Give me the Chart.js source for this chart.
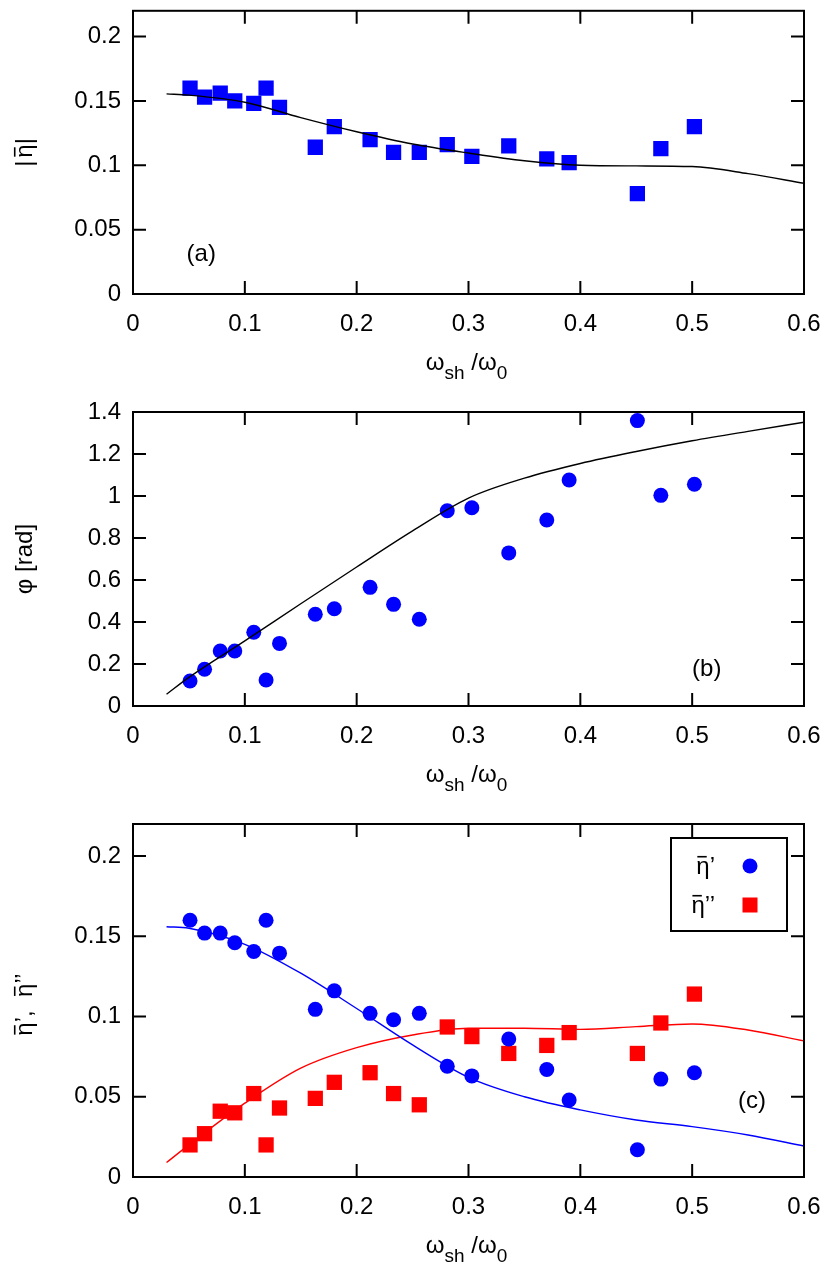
<!DOCTYPE html>
<html>
<head>
<meta charset="utf-8">
<script src="https://cdn.jsdelivr.net/npm/chart.js@4.4.0/dist/chart.umd.min.js"></script>
<style>
  html, body { margin: 0; padding: 0; background: #fff; }
  #wrap { position: relative; width: 828px; height: 1268px; }
  .panel { position: absolute; left: 0; width: 828px; }
</style>
</head>
<body>
<div id="wrap">
  <div class="panel" style="top:0"><canvas id="cA" width="828" height="392"></canvas></div>
  <div class="panel" style="top:392px"><canvas id="cB" width="828" height="412"></canvas></div>
  <div class="panel" style="top:804px"><canvas id="cC" width="828" height="464"></canvas></div>
</div>
<script>
// measured points (same frequencies in all three panels)
const freq   = [0.051, 0.064, 0.078, 0.091, 0.108, 0.119, 0.131, 0.163, 0.180, 0.212,
                0.233, 0.256, 0.281, 0.303, 0.336, 0.370, 0.390, 0.451, 0.472, 0.502];
const etaAbs = [0.160, 0.153, 0.156, 0.150, 0.148, 0.160, 0.145, 0.114, 0.130, 0.120,
                0.110, 0.110, 0.116, 0.107, 0.115, 0.105, 0.102, 0.078, 0.113, 0.130];
const phase  = [0.119, 0.175, 0.262, 0.262, 0.351, 0.124, 0.298, 0.437, 0.463, 0.565,
                0.484, 0.413, 0.930, 0.944, 0.729, 0.886, 1.076, 1.359, 1.003, 1.056];
const etaRe  = [0.160, 0.152, 0.152, 0.146, 0.1405, 0.160, 0.1395, 0.1045, 0.116, 0.102,
                0.098, 0.102, 0.069, 0.063, 0.086, 0.067, 0.048, 0.017, 0.061, 0.065];
const etaIm  = [0.020, 0.027, 0.041, 0.040, 0.052, 0.020, 0.043, 0.049, 0.059, 0.065,
                0.052, 0.045, 0.0935, 0.0875, 0.077, 0.082, 0.090, 0.077, 0.096, 0.114];

// model curves
const fitX     = [0.03, 0.05, 0.1, 0.15, 0.2, 0.25, 0.3, 0.35, 0.4, 0.45, 0.5, 0.55, 0.6];
const fitAbs   = [0.1555, 0.1545, 0.149, 0.137, 0.126, 0.1165, 0.1095, 0.1035, 0.100, 0.0995, 0.099, 0.0935, 0.086];
const fitPhase = [0.056, 0.136, 0.31, 0.487, 0.662, 0.834, 0.99, 1.085, 1.155, 1.212, 1.263, 1.308, 1.351];
const fitRe    = [0.156, 0.155, 0.145, 0.127, 0.105, 0.0823, 0.0621, 0.050, 0.0418, 0.0355, 0.0314, 0.0262, 0.0193];
const fitIm    = [0.009, 0.020, 0.046, 0.0678, 0.0806, 0.0885, 0.0927, 0.0927, 0.092, 0.0937, 0.0954, 0.0916, 0.0848];

// tick labels
const xTicks  = [0, 0.1, 0.2, 0.3, 0.4, 0.5, 0.6];
const yTicksA = [0, 0.05, 0.1, 0.15, 0.2];
const yTicksB = [0, 0.2, 0.4, 0.6, 0.8, 1, 1.2, 1.4];
const yTicksC = [0, 0.05, 0.1, 0.15, 0.2];

const FONT = "'Liberation Sans', Arial, sans-serif";
const BLUE = '#0000ff';
const RED = '#ff0000';

const pts = (xs, ys) => xs.map((x, i) => ({ x: x, y: ys[i] }));

function scatterSet(ys, color, style) {
  return {
    data: pts(freq, ys),
    showLine: false,
    pointStyle: style,
    pointRadius: style === 'rect' ? 10.8 : 7.5,
    pointBorderWidth: 0,
    backgroundColor: color,
    borderColor: color
  };
}

function curveSet(ys, color) {
  return {
    data: pts(fitX, ys),
    showLine: true,
    pointRadius: 0,
    borderColor: color,
    borderWidth: 1.4,
    cubicInterpolationMode: 'monotone',
    fill: false
  };
}

// parts: [text, size, dy, overline]; align: 'center' | 'right'
function drawParts(ctx, parts, x, base, align) {
  let w = 0;
  parts.forEach(p => { ctx.font = p[1] + 'px ' + FONT; w += ctx.measureText(p[0]).width; });
  let cx = align === 'right' ? x - w : x - w / 2;
  ctx.textAlign = 'left';
  ctx.textBaseline = 'alphabetic';
  parts.forEach(p => {
    ctx.font = p[1] + 'px ' + FONT;
    const pw = ctx.measureText(p[0]).width;
    ctx.fillText(p[0], cx, base + p[2]);
    if (p[3]) {
      ctx.save();
      ctx.lineWidth = 1.6;
      ctx.strokeStyle = ctx.fillStyle;
      ctx.beginPath();
      ctx.moveTo(cx + 1, base + p[2] - p[1] * 0.72);
      ctx.lineTo(cx + pw * 0.78, base + p[2] - p[1] * 0.72);
      ctx.stroke();
      ctx.restore();
    }
    cx += pw;
  });
}

function panelPlugin(cfg) {
  return {
    id: 'panel',
    afterDraw(chart) {
      const { ctx, chartArea: a, scales: { x, y } } = chart;
      ctx.save();
      ctx.strokeStyle = '#000';
      ctx.lineWidth = 2;
      ctx.beginPath();
      xTicks.forEach(v => {
        const p = x.getPixelForValue(v);
        ctx.moveTo(p, a.bottom); ctx.lineTo(p, a.bottom - 13);
        ctx.moveTo(p, a.top); ctx.lineTo(p, a.top + 13);
      });
      cfg.yTicks.forEach(v => {
        const p = y.getPixelForValue(v);
        ctx.moveTo(a.left, p); ctx.lineTo(a.left + 13, p);
        ctx.moveTo(a.right, p); ctx.lineTo(a.right - 13, p);
      });
      ctx.stroke();
      ctx.strokeRect(a.left, a.top, a.right - a.left, a.bottom - a.top);

      ctx.fillStyle = '#000';
      // x title
      drawParts(ctx, [['ω', 24, 0], ['sh', 19, 9], [' /', 24, 0], ['ω', 24, 0], ['0', 19, 9]],
        (a.left + a.right) / 2 - 2, a.bottom + 76, 'center');

      // y title
      ctx.save();
      ctx.translate(24, (a.top + a.bottom) / 2 + cfg.yTitleShift);
      ctx.rotate(-Math.PI / 2);
      drawParts(ctx, cfg.yTitle, 0, 8, 'center');
      ctx.restore();

      // panel label
      ctx.font = '24px ' + FONT;
      ctx.textAlign = 'center';
      ctx.textBaseline = 'middle';
      ctx.fillText(cfg.tag, x.getPixelForValue(cfg.tagAt[0]), y.getPixelForValue(cfg.tagAt[1]));

      // legend
      if (cfg.legend) {
        const L = cfg.legend;
        ctx.strokeRect(L.left, L.top, L.right - L.left, L.bottom - L.top);
        L.items.forEach(it => {
          ctx.fillStyle = '#000';
          drawParts(ctx, it.text, L.textX, it.y + 8, 'right');
          ctx.fillStyle = it.color;
          if (it.style === 'rect') {
            ctx.fillRect(L.markX - 7.5, it.y - 7.5, 15, 15);
          } else {
            ctx.beginPath();
            ctx.arc(L.markX, it.y, 7.5, 0, Math.PI * 2);
            ctx.fill();
          }
        });
      }
      ctx.restore();
    }
  };
}

function makeChart(id, cfg) {
  return new Chart(document.getElementById(id), {
    type: 'scatter',
    data: { datasets: cfg.datasets },
    options: {
      responsive: false,
      animation: false,
      devicePixelRatio: 1,
      layout: { padding: { top: cfg.topPad, right: 24, left: 0, bottom: 0 } },
      plugins: { legend: { display: false }, tooltip: { enabled: false } },
      scales: {
        x: {
          type: 'linear', min: 0, max: 0.6,
          afterBuildTicks: s => { s.ticks = xTicks.map(v => ({ value: v })); },
          afterFit: s => { s.height = cfg.xAxisH; s.paddingLeft = 0; s.paddingRight = 0; },
          grid: { display: false, drawTicks: false },
          border: { display: false },
          ticks: { padding: 16, color: '#000', font: { family: FONT, size: 24 },
                   maxRotation: 0, autoSkip: false, callback: v => String(v) }
        },
        y: {
          type: 'linear', min: cfg.yMin, max: cfg.yMax,
          afterBuildTicks: s => { s.ticks = cfg.yTicks.map(v => ({ value: v })); },
          afterFit: s => { s.width = 133; s.paddingTop = 0; s.paddingBottom = 0; },
          grid: { display: false, drawTicks: false },
          border: { display: false },
          ticks: { padding: 12, color: '#000', font: { family: FONT, size: 24 },
                   autoSkip: false, callback: v => String(v) }
        }
      }
    },
    plugins: [panelPlugin(cfg)]
  });
}

makeChart('cA', {
  datasets: [curveSet(fitAbs, '#000'), scatterSet(etaAbs, BLUE, 'rect')],
  yMin: 0, yMax: 0.22, yTicks: yTicksA, topPad: 1, xAxisH: 98,
  yTitle: [['|', 24, 0], [' ', 10, 0], ['η', 24, 0, true], ['|', 24, 0]],
  yTitleShift: 0, tag: '(a)', tagAt: [0.061, 0.031]
});

makeChart('cB', {
  datasets: [curveSet(fitPhase, '#000'), scatterSet(phase, BLUE, 'circle')],
  yMin: 0, yMax: 1.4, yTicks: yTicksB, topPad: 20, xAxisH: 98,
  yTitle: [['φ [rad]', 24, 0]],
  yTitleShift: 0, tag: '(b)', tagAt: [0.513, 0.176]
});

makeChart('cC', {
  datasets: [curveSet(fitRe, BLUE), curveSet(fitIm, RED),
             scatterSet(etaRe, BLUE, 'circle'), scatterSet(etaIm, RED, 'rect')],
  yMin: 0, yMax: 0.22, yTicks: yTicksC, topPad: 20, xAxisH: 91,
  yTitle: [['η', 24, 0, true], ['’,  ', 24, 0], ['η', 24, 0, true], ['’’', 24, 0]],
  yTitleShift: 4, tag: '(c)', tagAt: [0.5535, 0.0474],
  legend: {
    left: 671, right: 787, top: 34, bottom: 127, textX: 715, markX: 750,
    items: [
      { text: [['η', 24, 0, true], ['’', 24, 0]], y: 62, color: BLUE, style: 'circle' },
      { text: [['η', 24, 0, true], ['’’', 24, 0]], y: 101, color: RED, style: 'rect' }
    ]
  }
});
</script>
</body>
</html>
